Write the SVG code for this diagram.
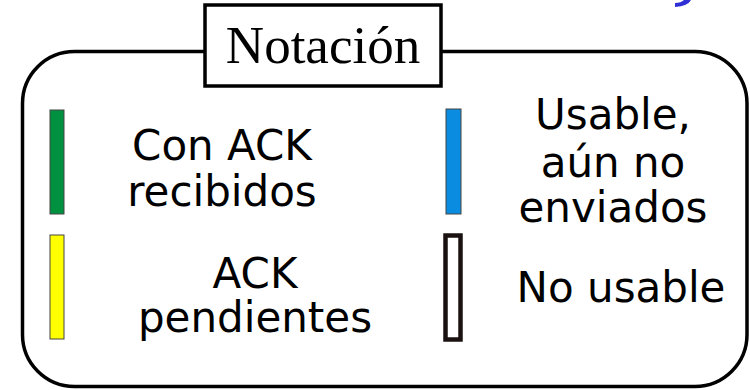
<svg xmlns="http://www.w3.org/2000/svg" width="750" height="390" viewBox="0 0 750 390">
<style>
.lbl{font-family:"DejaVu Sans",sans-serif;font-size:42px;fill:#000;text-anchor:middle}
.title{font-family:"Liberation Serif",serif;font-size:53px;fill:#000;text-anchor:middle}
.bar{stroke:#444;stroke-width:1}
.frame{fill:none;stroke:#000;stroke-width:3.5}
</style>
<rect width="750" height="390" fill="#fff"/>
<path d="M675,7 Q688,6 691,0 L684,0 Q681,3 675,3 Z" fill="#2f2fd6"/>
<g id="frame">
<rect class="frame" x="22.5" y="51.5" width="724.5" height="335" rx="52" ry="52"/>
</g>
<g id="title">
<rect x="205" y="5" width="236" height="81" fill="#fff" stroke="#000" stroke-width="3.5"/>
<text class="title" x="323" y="63">Notación</text>
</g>
<g id="ack-recibidos">
<rect class="bar" x="50" y="110" width="14" height="104" fill="#009140"/>
<text class="lbl" x="222" y="160">Con ACK</text>
<text class="lbl" x="222" y="206">recibidos</text>
</g>
<g id="ack-pendientes">
<rect class="bar" x="50" y="235" width="14" height="104" fill="#ffff00"/>
<text class="lbl" x="255" y="288">ACK</text>
<text class="lbl" x="255" y="332">pendientes</text>
</g>
<g id="usable">
<rect class="bar" x="446" y="109" width="15" height="105" fill="#0a8de0"/>
<text class="lbl" x="613" y="129">Usable,</text>
<text class="lbl" x="613" y="177">aún no</text>
<text class="lbl" x="613" y="222">enviados</text>
</g>
<g id="no-usable">
<rect x="445.5" y="235.5" width="15" height="104" fill="#fff" stroke="#1a1210" stroke-width="4.5"/>
<text class="lbl" x="621" y="302">No usable</text>
</g>
<g id="connectors"></g>
</svg>
